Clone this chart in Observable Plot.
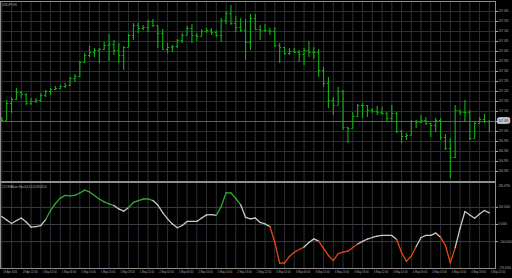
<!DOCTYPE html>
<html><head><meta charset="utf-8">
<script src="https://cdn.jsdelivr.net/npm/d3@7"></script>
<script src="https://cdn.jsdelivr.net/npm/@observablehq/plot@0.6"></script>
<style>
html,body{margin:0;padding:0;background:#000;}
#chart{width:512px;height:278px;overflow:hidden;background:#000;}
#chart svg{display:block;}
</style></head><body><div id="chart"></div>
<script>
const symbolTitle = "USDJPY,H1";
const indicatorTitle = "CCI EMA per Black(14,4,0) 68.4210";

const timeLabelBars = [0,4,8,12,16,20,24,28,32,36,40,44,48,52,56,60,64,68,72,76,80,84,88,92,96,100];
const timeLabels = ["29 Apr 2016","29 Apr 22:00","1 May 02:00","1 May 06:00","1 May 10:00","1 May 14:00","1 May 18:00","1 May 22:00","2 May 02:00","2 May 06:00","2 May 10:00","2 May 14:00","2 May 18:00","2 May 22:00","3 May 02:00","3 May 06:00","3 May 10:00","3 May 14:00","3 May 18:00","3 May 22:00","4 May 02:00","4 May 06:00","4 May 10:00","4 May 14:00","4 May 18:00","4 May 22:00"];

const priceTicks = [107.645,107.595,107.545,107.495,107.445,107.395,107.345,107.295,107.245,107.195,107.145,107.095,107.045,106.995,106.945,106.895,106.845];
const indTicks = [100, 0, -100];
const indEdgeLabels = ["186.6790", "-176.4560"];

const openP = [107.105,107.100,107.185,107.205,107.240,107.230,107.185,107.195,107.200,107.225,
107.245,107.255,107.260,107.270,107.275,107.310,107.320,107.390,107.425,107.440,
107.450,107.455,107.475,107.480,107.450,107.425,107.465,107.525,107.575,107.560,
107.565,107.595,107.575,107.535,107.455,107.465,107.470,107.500,107.525,107.560,
107.525,107.520,107.545,107.550,107.540,107.525,107.600,107.635,107.585,107.565,
107.550,107.490,107.610,107.555,107.550,107.550,107.545,107.475,107.465,107.435,
107.445,107.440,107.430,107.450,107.440,107.440,107.350,107.285,107.200,107.175,
107.245,107.065,107.060,107.120,107.175,107.175,107.150,107.145,107.140,107.135,
107.110,107.135,107.045,107.020,107.025,107.095,107.090,107.100,107.085,107.075,
107.100,107.015,106.960,106.915,107.150,107.140,107.140,107.010,107.085,107.105,
107.095];
const highP = [107.115,107.200,107.215,107.260,107.245,107.235,107.210,107.210,107.235,107.250,
107.260,107.270,107.275,107.285,107.315,107.330,107.395,107.435,107.470,107.460,
107.460,107.490,107.530,107.500,107.485,107.470,107.530,107.585,107.585,107.575,
107.600,107.605,107.575,107.555,107.485,107.475,107.505,107.535,107.570,107.580,
107.535,107.555,107.560,107.560,107.550,107.610,107.645,107.675,107.620,107.610,
107.605,107.630,107.630,107.575,107.580,107.560,107.565,107.485,107.465,107.460,
107.460,107.450,107.460,107.495,107.465,107.455,107.365,107.315,107.215,107.265,
107.250,107.065,107.140,107.180,107.185,107.175,107.160,107.170,107.165,107.140,
107.175,107.140,107.050,107.035,107.100,107.100,107.125,107.115,107.085,107.110,
107.110,107.030,107.010,107.175,107.150,107.200,107.150,107.090,107.115,107.130,
107.100];
const lowP = [107.095,107.100,107.135,107.200,107.210,107.175,107.175,107.185,107.190,107.215,
107.225,107.250,107.255,107.260,107.270,107.290,107.315,107.385,107.415,107.415,
107.385,107.450,107.395,107.425,107.385,107.350,107.465,107.500,107.535,107.550,
107.540,107.565,107.460,107.450,107.435,107.440,107.460,107.485,107.525,107.485,
107.495,107.520,107.535,107.525,107.515,107.490,107.580,107.575,107.540,107.540,
107.400,107.450,107.550,107.500,107.540,107.525,107.465,107.385,107.425,107.425,
107.435,107.390,107.375,107.415,107.405,107.315,107.265,107.160,107.125,107.175,
107.050,106.985,107.060,107.115,107.110,107.115,107.135,107.125,107.125,107.090,
107.090,107.035,106.985,107.000,107.025,107.060,107.085,107.075,107.015,107.040,
107.000,106.950,106.810,106.910,107.125,107.090,107.000,107.010,107.085,107.085,
107.040];
const closeP = [107.100,107.185,107.205,107.240,107.230,107.185,107.195,107.200,107.225,107.245,
107.255,107.260,107.270,107.275,107.310,107.320,107.390,107.425,107.440,107.450,
107.455,107.475,107.480,107.450,107.425,107.465,107.525,107.575,107.560,107.565,
107.595,107.575,107.535,107.455,107.465,107.470,107.500,107.525,107.560,107.525,
107.520,107.545,107.550,107.540,107.525,107.600,107.635,107.585,107.565,107.550,
107.490,107.610,107.555,107.550,107.550,107.545,107.475,107.465,107.435,107.445,
107.440,107.430,107.450,107.440,107.440,107.350,107.285,107.200,107.175,107.245,
107.065,107.060,107.120,107.175,107.175,107.150,107.145,107.140,107.135,107.110,
107.135,107.045,107.020,107.025,107.095,107.090,107.100,107.085,107.075,107.100,
107.015,106.960,106.915,107.150,107.140,107.140,107.010,107.085,107.105,107.095,
107.095];

const indicator = [47,26,6,23,38,15,-15,-12,-6,29,
82,123,154,170,167,170,184,201,190,170,
149,132,120,111,91,78,99,129,140,149,
150,140,114,70,33,3,-19,-6,18,18,
18,38,56,58,53,105,185,185,152,115,
41,33,38,12,3,-12,-105,-226,-225,-187,
-162,-146,-132,-105,-84,-97,-140,-181,-211,-170,
-161,-156,-135,-114,-99,-85,-76,-68,-64,-64,
-64,-88,-164,-216,-184,-129,-76,-64,-64,-50,
-74,-123,-224,-135,-23,76,56,37,61,82,
68];
// run starts (bar index) and state: w = neutral, g = up, o = down
const indRunStart = [0,9,23,26,31,44,49,55,62,65,73,81,85,90,93];
const indRunState = ["w","g","w","g","w","g","w","o","w","o","w","o","w","o","w"];

const colors = {w:"#c9c9c9", g:"#2fae2f", o:"#e8470d"};
const barColor = "#14b014";
const gridColor = "#2c3034";
const frameColor = "#8e8e8e";
const axisText = "#a8a8a8";
const font = "Liberation Sans";
const fs = 2.8;

const bars = openP.map((o,i)=>({i, o, h:highP[i], l:lowP[i], c:closeP[i]}));
function stateAt(i){ let s="w"; for(let k=0;k<indRunStart.length;k++){ if(i>=indRunStart[k]) s=indRunState[k]; } return s; }
const segs = indicator.slice(0,-1).map((v,i)=>({i, v, v2:indicator[i+1], s:stateAt(i)}));
const gridBars = d3.range(0, 101, 2);
const lastClose = closeP[closeP.length-1];
const xDomain = [-0.267, 101.27];

const priceChart = Plot.plot({
  width:512, height:182, marginTop:1, marginBottom:1, marginLeft:0, marginRight:17,
  x:{domain:xDomain, axis:null},
  y:{domain:[106.795, 107.695], axis:null},
  style:{background:"#000", fontFamily:font, fontSize:fs+"px", color:axisText},
  marks:[
    Plot.gridX(gridBars, {stroke:gridColor, strokeOpacity:1}),
    Plot.gridY(priceTicks, {stroke:gridColor, strokeOpacity:1}),
    Plot.ruleY([lastClose], {stroke:"#55616b"}),
    Plot.ruleX(bars, {x:"i", y1:"l", y2:"h", stroke:barColor, strokeWidth:1.1}),
    Plot.link(bars, {x1:d=>d.i-0.32, x2:"i", y1:"o", y2:"o", stroke:barColor, strokeWidth:1}),
    Plot.link(bars, {x1:"i", x2:d=>d.i+0.32, y1:"c", y2:"c", stroke:barColor, strokeWidth:1}),
    Plot.frame({stroke:frameColor}),
    Plot.axisY(priceTicks, {anchor:"right", tickSize:2, tickPadding:1, tickFormat:d3.format(".3f"), fontSize:fs, color:axisText}),
    Plot.text([lastClose], {y:d=>d, frameAnchor:"right", dx:3, textAnchor:"start", text:d=>d3.format(".3f")(d), fill:"#111", stroke:"#c4cbd2", strokeWidth:3.5, fontSize:fs}),
    Plot.text([symbolTitle], {frameAnchor:"top-left", dx:1.5, dy:2.5, fill:"#b4b4b4", fontSize:fs})
  ]
});

const indChart = Plot.plot({
  width:512, height:96, marginTop:0, marginBottom:10, marginLeft:0, marginRight:17,
  x:{domain:xDomain, axis:null},
  y:{domain:[-257.3, 245.6], axis:null},
  color:{type:"identity"},
  style:{background:"#000", fontFamily:font, fontSize:fs+"px", color:axisText, overflow:"visible"},
  marks:[
    Plot.gridX(gridBars, {stroke:gridColor, strokeOpacity:1}),
    Plot.gridY(indTicks, {stroke:"#3a3e42", strokeOpacity:1}),
    Plot.link(segs, {x1:"i", y1:"v", x2:d=>d.i+1, y2:"v2", stroke:d=>colors[d.s], strokeWidth:1.3, strokeLinecap:"round"}),
    Plot.frame({stroke:frameColor}),
    Plot.axisY(indTicks, {anchor:"right", tickSize:2, tickPadding:1, tickFormat:d3.format(".4f"), fontSize:fs, color:axisText}),
    Plot.text([indEdgeLabels[0]], {frameAnchor:"top-right", dx:3, dy:2, textAnchor:"start", fill:axisText, fontSize:fs}),
    Plot.text([indEdgeLabels[1]], {frameAnchor:"bottom-right", dx:3, dy:0, textAnchor:"start", fill:axisText, fontSize:fs}),
    Plot.text(timeLabels, {x:(d,k)=>timeLabelBars[k], frameAnchor:"bottom", dy:4.5, dx:1.5, textAnchor:"start", fill:axisText, fontSize:2.6}),
    Plot.text([indicatorTitle], {frameAnchor:"top-left", dx:1.5, dy:3.5, fill:"#b4b4b4", fontSize:fs})
  ]
});

const root = document.getElementById("chart");
root.appendChild(priceChart);
root.appendChild(indChart);
</script>
</body></html>
